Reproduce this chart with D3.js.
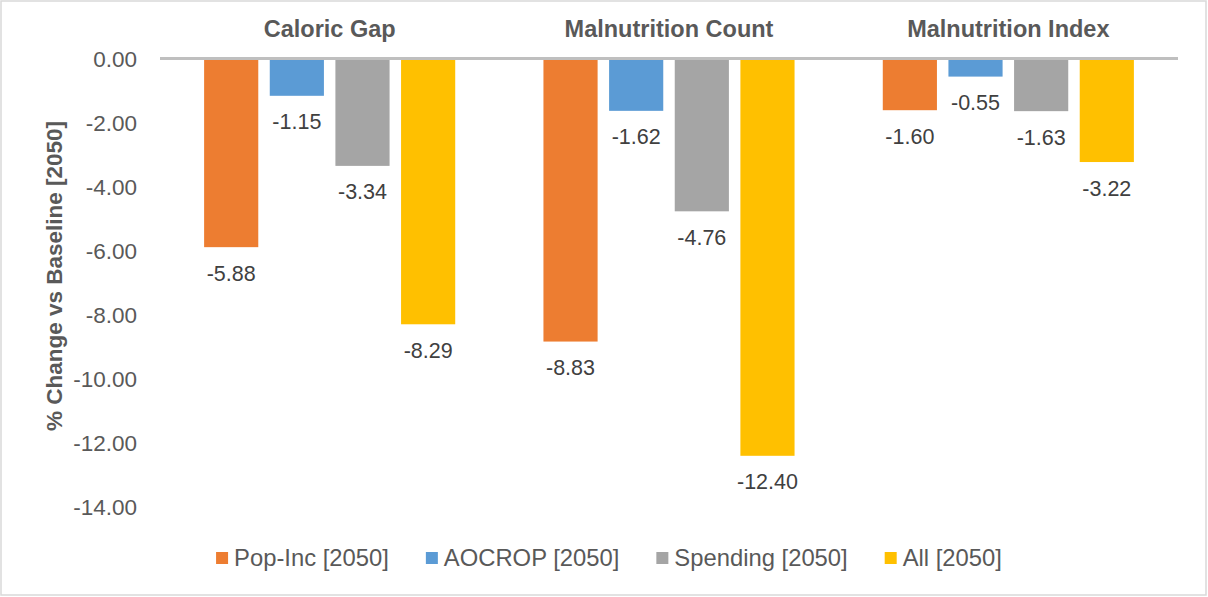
<!DOCTYPE html>
<html>
<head>
<meta charset="utf-8">
<script src="https://cdn.jsdelivr.net/npm/d3@7"></script>
<style>
  html, body { margin: 0; padding: 0; background: #fff; }
  svg { display: block; font-family: "Liberation Sans", Arial, sans-serif; }
</style>
</head>
<body>
<svg id="chart" width="1208" height="597"></svg>
<script>
const categories = ["Caloric Gap", "Malnutrition Count", "Malnutrition Index"];
const seriesNames = ["Pop-Inc [2050]", "AOCROP [2050]", "Spending [2050]", "All [2050]"];
const popInc   = [-5.88, -8.83, -1.60];
const aocrop   = [-1.15, -1.62, -0.55];
const spending = [-3.34, -4.76, -1.63];
const allSer   = [-8.29, -12.40, -3.22];
const seriesValues = [popInc, aocrop, spending, allSer];
const colors = ["#ED7D31", "#5B9BD5", "#A5A5A5", "#FFC000"];
const yTicks = [0, -2, -4, -6, -8, -10, -12, -14];
const axisTitle = "% Change vs Baseline [2050]";

const fmt = d3.formatLocale({ decimal: ".", thousands: ",", grouping: [3], currency: ["", ""], minus: "-" }).format(".2f");

const svg = d3.select("#chart");
const W = 1208, H = 597;

svg.append("rect").attr("x", 1).attr("y", 1).attr("width", W - 3).attr("height", H - 3)
  .attr("fill", "#fff").attr("stroke", "#d9d9d9").attr("stroke-width", 1.5);

const plotLeft = 160, plotRight = 1178;
const y = d3.scaleLinear().domain([0, -14]).range([59, 507]);
const x0 = d3.scaleBand().domain(categories).range([plotLeft, plotRight]).padding(0);
const bw0 = x0.bandwidth();
const x1 = d3.scaleBand().domain(seriesNames).range([bw0 * 0.13, bw0 * 0.87]).paddingInner(0.175).paddingOuter(0);

// y tick labels
const yAxis = d3.axisLeft(y).tickValues(yTicks).tickFormat(fmt).tickSize(0).tickPadding(0);
const gy = svg.append("g").attr("transform", "translate(137,0)").call(yAxis);
gy.select(".domain").remove();
gy.selectAll("text").attr("fill", "#595959").style("font-size", "22.5px")
  .style("font-family", "Liberation Sans, Arial, sans-serif").attr("dy", "0.35em");

// axis title
svg.append("text")
  .attr("transform", `translate(62,276) rotate(-90)`)
  .attr("text-anchor", "middle")
  .attr("fill", "#595959").style("font-size", "22.5px").style("font-weight", "bold")
  .text(axisTitle);

// bars
const groups = svg.append("g").selectAll("g").data(categories).join("g")
  .attr("transform", d => `translate(${x0(d)},0)`);

const cells = groups.selectAll("g.cell")
  .data((c, ci) => seriesNames.map((s, si) => ({ s, si, v: seriesValues[si][ci] })))
  .join("g").attr("class", "cell");

cells.append("rect")
  .attr("x", d => x1(d.s))
  .attr("width", x1.bandwidth())
  .attr("y", y(0))
  .attr("height", d => y(d.v) - y(0))
  .attr("fill", d => colors[d.si]);

cells.append("text")
  .attr("x", d => x1(d.s) + x1.bandwidth() / 2)
  .attr("y", d => y(d.v) + 26)
  .attr("dy", "0.35em")
  .attr("text-anchor", "middle")
  .attr("fill", "#404040").style("font-size", "21.5px")
  .text(d => fmt(d.v));

// zero axis line
svg.append("line").attr("x1", plotLeft).attr("x2", plotRight)
  .attr("y1", y(0) - 0.5).attr("y2", y(0) - 0.5)
  .attr("stroke", "#bfbfbf").attr("stroke-width", 3);

// category titles
svg.append("g").selectAll("text").data(categories).join("text")
  .attr("x", d => x0(d) + bw0 / 2)
  .attr("y", 37)
  .attr("text-anchor", "middle")
  .attr("fill", "#595959").style("font-size", "23.5px").style("font-weight", "bold")
  .text(d => d);

// legend
const legend = svg.append("g");
const items = legend.selectAll("g").data(seriesNames).join("g");
items.append("rect").attr("width", 12).attr("height", 12).attr("y", -6)
  .attr("fill", (d, i) => colors[i]);
items.append("text").attr("x", 18).attr("dy", "0.35em")
  .attr("fill", "#595959").style("font-size", "23.8px").text(d => d);
const gap = 37;
let xpos = 0;
items.each(function () {
  const w = this.getBBox().width;
  d3.select(this).attr("transform", `translate(${xpos},558)`);
  xpos += w + gap;
});
const total = xpos - gap;
legend.attr("transform", `translate(${609 - total / 2},0)`);
</script>
</body>
</html>
